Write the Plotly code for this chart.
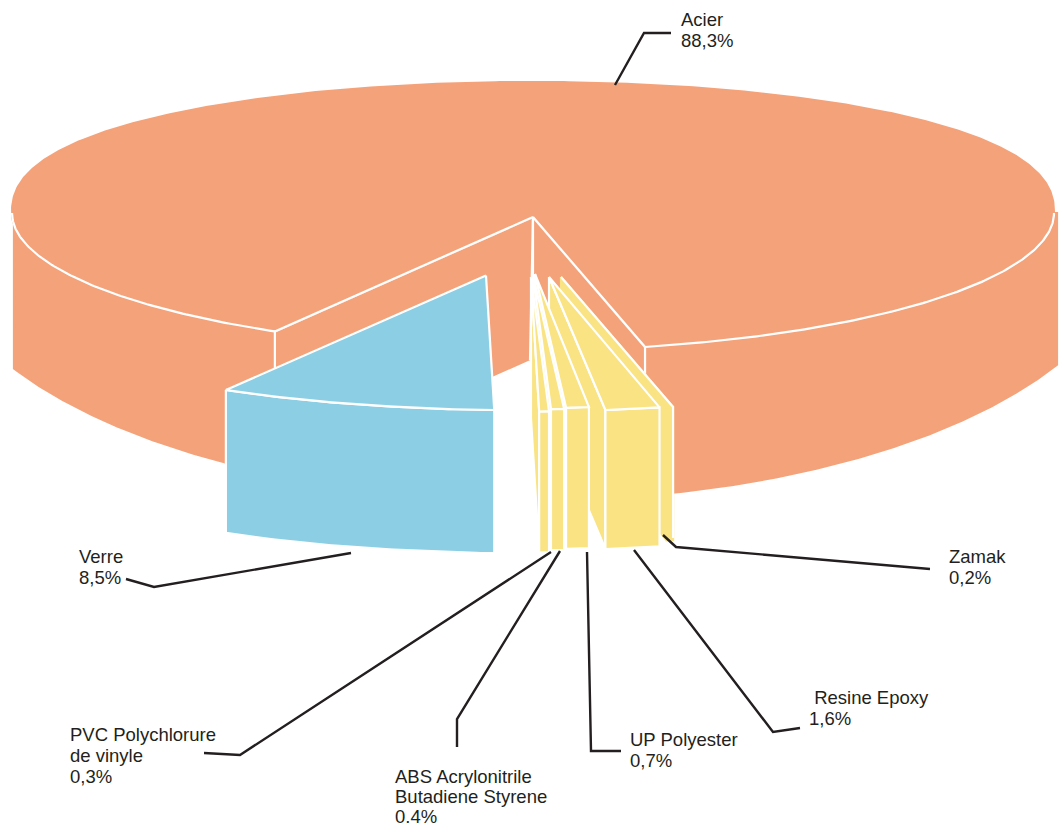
import numpy as np
import plotly.graph_objects as go

# --- data ---
categories = ["Verre", "PVC Polychlorure<br>de vinyle", "ABS Acrylonitrile<br>Butadiene Styrene",
              "UP Polyester", "\u00a0Resine Epoxy", "Zamak", "Acier"]
shares = [8.5, 0.3, 0.4, 0.7, 1.6, 0.2, 88.3]
share_labels = ["8,5%", "0,3%", "0.4%", "0,7%", "1,6%", "0,2%", "88,3%"]

# --- drawing constants ---
CX, CY, RX, RY = 533, 217, 521, 135
START = -29.7
ORANGE, BLUE, YELLOW, INK = "#F4A27A", "#8CCFE5", "#F9E382", "#231F20"
colors = [BLUE, YELLOW, YELLOW, YELLOW, YELLOW, YELLOW, ORANGE]
# apex x, apex y, horizontal radius of each slice
apexes = [(486, 275.5, 525), (531, 277, RX), (533, 275, RX), (535, 274, RX),
          (549, 277, 545), (561, 277, RX), (CX, CY, RX)]
depths = [143, 141, 141, 141, 139, 133, 143]
label_pos = [(79, 556.5), (70, 734.5), (395, 776), (630, 739.5), (809, 697.5), (949, 556.5), (681, 19.5)]
line_steps = [20.8, 20.8, 20.2, 20.8, 20.8, 20.8, 20.8]
leaders = [
    [(351, 553), (154, 587), (126, 579)],
    [(551, 552), (240, 755), (204, 753)],
    [(560, 551), (457, 719), (457, 747)],
    [(587, 552), (591, 751), (621, 751)],
    [(634, 550), (773, 732), (800, 728)],
    [(663, 535), (676, 547), (930, 569)],
    [(615, 85), (644, 33), (671, 33)],
]
WALL_LEFT, WALL_RIGHT = 14, 1057

edges = START + np.cumsum([0] + [s * 3.6 for s in shares])
fig = go.Figure()


def arc(apex, a0, a1):
    t = np.radians(np.linspace(a0, a1, max(int(abs(a1 - a0) * 2), 2) + 1))
    c, s = np.cos(t), np.abs(np.sin(t))
    dy = np.where(c >= 0, RY * c - 4 * np.sqrt(s), -4 - 131 * np.abs(c) ** 0.85)
    return apex[0] + apex[2] * np.sin(t), apex[1] + dy


def body_floor(x):
    return 236 + 264 * np.sqrt(1 - ((np.asarray(x, float) - CX) / 600) ** 2)


def poly(xs, ys, color, edge="white"):
    xs, ys = list(xs), list(ys)
    fig.add_trace(go.Scatter(x=xs + [xs[0]], y=ys + [ys[0]], mode="lines", fill="toself",
                             fillcolor=color, line=dict(color=edge, width=2.2),
                             hoverinfo="skip", showlegend=False))


def stroke(xs, ys, color="white", width=2.2):
    fig.add_trace(go.Scatter(x=list(xs), y=list(ys), mode="lines", line=dict(color=color, width=width),
                             hoverinfo="skip", showlegend=False))


def wall(apex, a0, a1, color, depth, edge="white"):
    x, y = arc(apex, a0, a1)
    poly(np.r_[x, x[::-1]], np.r_[y, y[::-1] + depth], color, edge)


def cut_face(apex, a, color, depth, edge="white"):
    x, y = arc(apex, a, a)
    x, y = x[0], y[0]
    poly([apex[0], x, x, apex[0]], [apex[1], y, y + depth, apex[1] + depth], color, edge)


def top(apex, a0, a1, color, edge="white"):
    x, y = arc(apex, a0, a1)
    poly(np.r_[apex[0], x], np.r_[apex[1], y], color, edge)


# main body (last share) first, exploded slices on top of it
a0, a1 = edges[6], edges[7]
apex, depth = apexes[6], depths[6]
cut_face(apex, a1, ORANGE, depth)
cut_face(apex, a0, ORANGE, depth)

xr, yr = arc(apex, a0, 90)
fx = np.clip(xr, None, WALL_RIGHT)
poly(np.r_[xr, WALL_RIGHT, WALL_RIGHT, fx[::-1]],
     np.r_[yr, yr[-1], body_floor(WALL_RIGHT), body_floor(fx)[::-1]], ORANGE, ORANGE)
xl, yl = arc(apex, 270, a1)
keep = xl >= WALL_LEFT
poly(np.r_[WALL_LEFT, xl[keep], xl[keep][::-1], WALL_LEFT],
     np.r_[yl[keep][0], yl[keep], body_floor(xl[keep])[::-1], body_floor(WALL_LEFT)], ORANGE, ORANGE)
top(apex, a0, a1, ORANGE, ORANGE)
stroke(*arc(apex, a0, 90))
stroke(*arc(apex, 270, a1))
for a in (a0, a1):
    x, y = arc(apex, a, a)
    stroke([apex[0], x[0], x[0]], [apex[1], y[0], y[0] + 60])
stroke([apex[0], apex[0] - 3], [apex[1], apex[1] + depth])

# narrowest slice sits behind its neighbour: only its outer edges are stroked
i = 5
a0, a1 = edges[i], edges[i + 1]
cut_face(apexes[i], a0, YELLOW, depths[i], YELLOW)
wall(apexes[i], a0, a1, YELLOW, depths[i], YELLOW)
top(apexes[i], a0, a1, YELLOW, YELLOW)
x, y = arc(apexes[i], a1, a1)
stroke([apexes[i][0], x[0], x[0]], [apexes[i][1], y[0], y[0] + depths[i] - 2])

for i in [4, 3, 2, 1, 0]:
    a0, a1 = edges[i], edges[i + 1]
    if a0 > 0:
        cut_face(apexes[i], a0, colors[i], depths[i])
    wall(apexes[i], a0, a1, colors[i], depths[i])
    top(apexes[i], a0, a1, colors[i])

for pts in leaders:
    stroke([p[0] for p in pts], [p[1] for p in pts], INK, 2.4)

for name, val, (x, y), step in zip(categories, share_labels, label_pos, line_steps):
    for k, line in enumerate(name.split("<br>") + [val]):
        fig.add_annotation(x=x, y=y + k * step, text=line, xanchor="left", yanchor="middle",
                           align="left", showarrow=False, borderpad=0, borderwidth=0,
                           font=dict(family="Liberation Sans", size=18.5, color=INK))

fig.update_xaxes(range=[0, 1062], visible=False, fixedrange=True)
fig.update_yaxes(range=[828, 0], visible=False, fixedrange=True)
fig.update_layout(width=1062, height=828, margin=dict(l=0, r=0, t=0, b=0),
                  paper_bgcolor="white", plot_bgcolor="white")
fig.write_html("out.html", config={"displayModeBar": False},
               post_script="document.body.style.margin='0';")
